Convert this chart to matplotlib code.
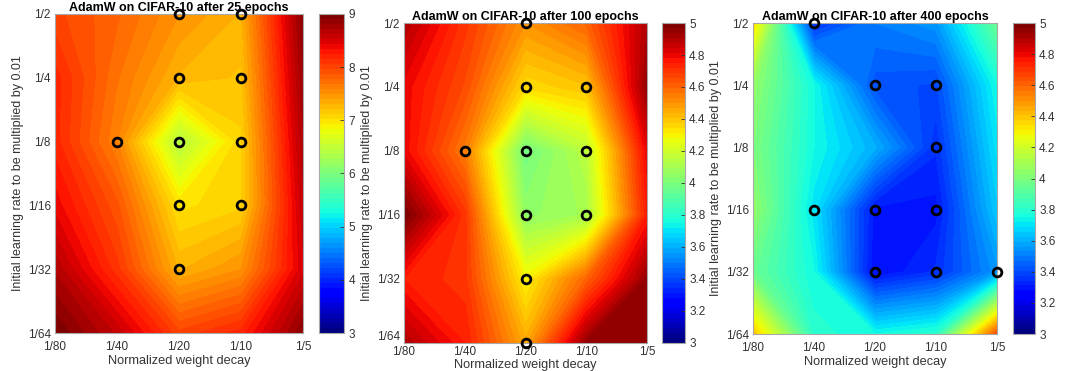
import matplotlib.pyplot as plt
import numpy as np

plt.rcParams["font.family"] = ["Liberation Sans", "DejaVu Sans"]

WEIGHT_DECAY_LABELS = ["1/80", "1/40", "1/20", "1/10", "1/5"]
LR_LABELS = ["1/64", "1/32", "1/16", "1/8", "1/4", "1/2"]

# test error (%), rows listed top (lr 1/2) to bottom (lr 1/64), columns wd 1/80 .. 1/5
ERR_25 = [
    [8.0, 7.8, 7.5, 7.3, 8.9],
    [8.2, 7.7, 7.3, 7.2, 8.8],
    [8.2, 7.6, 6.4, 7.1, 8.7],
    [8.4, 7.9, 7.0, 7.1, 8.6],
    [8.7, 8.1, 7.3, 7.5, 8.5],
    [9.0, 8.6, 8.0, 8.2, 8.9],
]
ERR_100 = [
    [4.9, 4.7, 4.5, 4.6, 4.9],
    [4.8, 4.65, 4.35, 4.4, 4.95],
    [4.8, 4.55, 3.98, 4.15, 4.8],
    [5.0, 4.7, 4.05, 4.1, 4.75],
    [4.75, 4.7, 4.3, 4.6, 4.95],
    [4.9, 4.75, 4.45, 4.95, 4.95],
]
ERR_400 = [
    [4.35, 3.35, 3.5, 3.55, 3.95],
    [4.05, 3.75, 3.42, 3.4, 3.75],
    [4.0, 3.75, 3.6, 3.35, 3.7],
    [4.05, 3.7, 3.3, 3.3, 3.65],
    [3.95, 3.75, 3.28, 3.35, 3.55],
    [4.4, 3.8, 3.75, 3.8, 4.65],
]

# marked (near-best) settings as (wd index, lr label)
BEST_25 = [(2, "1/2"), (3, "1/2"), (2, "1/4"), (3, "1/4"), (1, "1/8"), (2, "1/8"),
           (3, "1/8"), (2, "1/16"), (3, "1/16"), (2, "1/32")]
BEST_100 = [(2, "1/2"), (2, "1/4"), (3, "1/4"), (1, "1/8"), (2, "1/8"), (3, "1/8"),
            (2, "1/16"), (3, "1/16"), (2, "1/32"), (2, "1/64")]
BEST_400 = [(1, "1/2"), (2, "1/4"), (3, "1/4"), (3, "1/8"), (1, "1/16"), (2, "1/16"),
            (3, "1/16"), (2, "1/32"), (3, "1/32"), (4, "1/32")]

EPOCHS = [25, 100, 400]
PANELS = [
    (ERR_25, BEST_25, (3, 9), [3, 4, 5, 6, 7, 8, 9]),
    (ERR_100, BEST_100, (3, 5), np.round(np.arange(3, 5.01, 0.2), 1)),
    (ERR_400, BEST_400, (3, 5), np.round(np.arange(3, 5.01, 0.2), 1)),
]

AX_RECTS = [
    [0.0516, 0.1024, 0.2326, 0.860],
    [0.3790, 0.0755, 0.2280, 0.8625],
    [0.7064, 0.0997, 0.2289, 0.838],
]
CB_RECTS = [
    [0.2993, 0.1024, 0.0235, 0.860],
    [0.6210, 0.0755, 0.0216, 0.8625],
    [0.9503, 0.0997, 0.0206, 0.838],
]
XTICK_PADS = [6, 2, 6]

TEXT_COLOR = "#333333"
FRAME_COLOR = "#a8a8a8"

fig = plt.figure(figsize=(10.66, 3.71), dpi=100)
cmap = plt.get_cmap("jet", 64)

for i, (epochs, (err, best, (vmin, vmax), cticks), ax_rect, cb_rect, xpad) in enumerate(zip(
    EPOCHS, PANELS, AX_RECTS, CB_RECTS, XTICK_PADS
)):
    ax = fig.add_axes(ax_rect)
    z = np.asarray(err, dtype=float)[::-1]
    xs = np.arange(len(WEIGHT_DECAY_LABELS))
    ys = np.arange(len(LR_LABELS))
    levels = np.linspace(vmin, vmax, 65)
    cf = ax.contourf(xs, ys, z, levels=levels, cmap=cmap, vmin=vmin, vmax=vmax, extend="both")

    bx = [b[0] for b in best]
    by = [LR_LABELS.index(b[1]) for b in best]
    ax.plot(bx, by, "o", mfc="none", mec="black", ms=6.3, mew=2.0, ls="none", clip_on=False, zorder=5)

    ax.set_xlim(0, len(xs) - 1)
    ax.set_ylim(0, len(ys) - 1)
    ax.set_xticks(xs)
    ax.set_xticklabels(WEIGHT_DECAY_LABELS)
    ax.set_yticks(ys)
    ytl = ax.set_yticklabels(LR_LABELS)
    if i == 1:
        # bottom label sits a bit higher so it clears the first x tick label
        ytl[0].set_verticalalignment("bottom")
    ax.tick_params(length=0, labelsize=8.5, colors=TEXT_COLOR)
    ax.tick_params(axis="x", pad=xpad)
    ax.tick_params(axis="y", pad=3)
    for spine in ax.spines.values():
        spine.set_color(FRAME_COLOR)
        spine.set_linewidth(0.8)
    ax.set_xlabel("Normalized weight decay", fontsize=9.2, color=TEXT_COLOR, labelpad=1)
    ax.set_ylabel("Initial learning rate to be multiplied by 0.01", fontsize=9,
                  color=TEXT_COLOR, labelpad=3)
    ax.set_title(f"AdamW on CIFAR-10 after {epochs} epochs", fontsize=9, fontweight="bold", pad=2)

    cax = fig.add_axes(cb_rect)
    cb = fig.colorbar(cf, cax=cax, ticks=cticks, extendfrac=0)
    cb.ax.set_ylim(vmin, vmax)
    cb.set_ticklabels([f"{t:g}" for t in cticks])
    cb.ax.tick_params(direction="in", length=3, width=0.6, labelsize=8.5, colors=TEXT_COLOR, pad=3)
    cb.outline.set_edgecolor(FRAME_COLOR)
    cb.outline.set_linewidth(0.8)

fig.savefig("out.png", dpi=100)
